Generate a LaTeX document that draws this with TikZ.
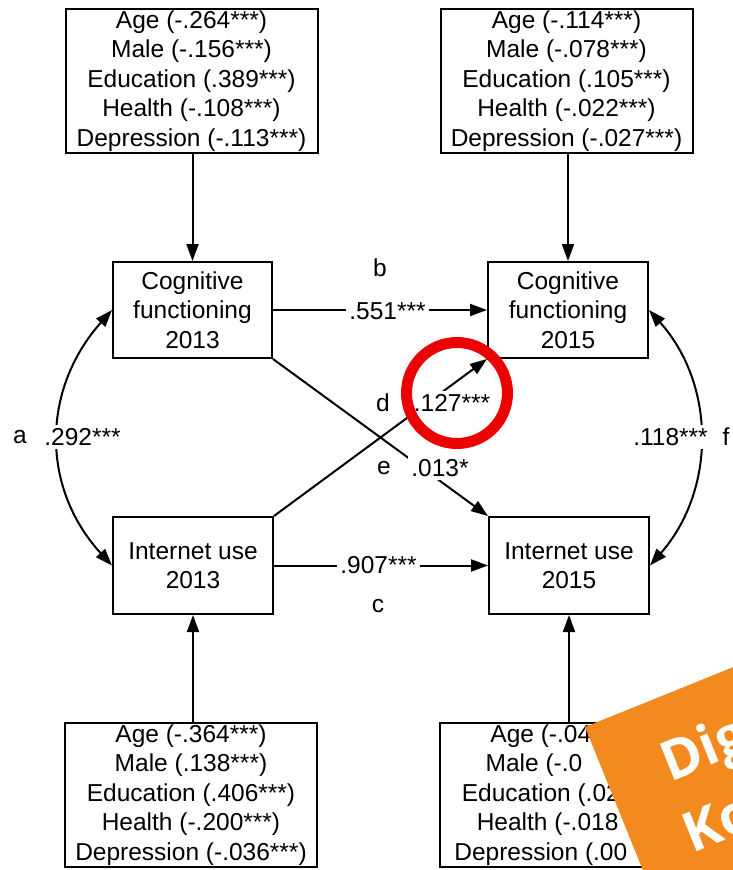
\documentclass[tikz,border=0pt]{standalone}
\usepackage{fontspec}
\setmainfont{Liberation Sans}
\newfontfamily\bannerfont{Open Sans}
\usetikzlibrary{arrows.meta}
\definecolor{bannerorange}{RGB}{243,138,32}
\definecolor{ringred}{RGB}{236,0,0}
\begin{document}
\begin{tikzpicture}[x=1pt,y=-1pt,
  every node/.style={font=\fontsize{24.5}{29.5}\selectfont, inner sep=0pt},
  covbox/.style={draw, line width=2pt, minimum width=252pt, minimum height=144pt, align=center},
  varbox/.style={draw, line width=2pt, minimum width=160pt, minimum height=96pt, align=center},
  conn/.style={line width=2pt, -{Triangle[length=17pt,width=12pt]}},
  biconn/.style={line width=2pt, {Triangle[length=17pt,width=12pt]}-{Triangle[length=17pt,width=12pt]}},
  coef/.style={fill=white, inner sep=3pt}]
\useasboundingbox (0,0) rectangle (733,870);
\fill[white] (0,0) rectangle (733,870);

% covariate boxes
\node[covbox] (tl) at (191.5,81) {Age (-.264***)\\Male (-.156***)\\Education (.389***)\\Health (-.108***)\\Depression (-.113***)};
\node[covbox] (tr) at (566.5,81) {Age (-.114***)\\Male (-.078***)\\Education (.105***)\\Health (-.022***)\\Depression (-.027***)};
\node[covbox] (bl) at (191,795) {Age (-.364***)\\Male (.138***)\\Education (.406***)\\Health (-.200***)\\Depression (-.036***)};
\node[covbox] (br) at (566,795) {Age (-.04\phantom{0***)}\\Male (-.0\phantom{00***)}\\Education (.02\phantom{0***)}\\Health (-.018\phantom{***)}\\Depression (.00\phantom{0***)}};

% variable boxes
\node[varbox, minimum width=159pt] (cog13) at (192.5,310) {Cognitive\\functioning\\2013};
\node[varbox] (cog15) at (568,310) {Cognitive\\functioning\\2015};
\node[varbox, minimum height=97pt] (int13) at (193,565.5) {Internet use\\2013};
\node[varbox, minimum height=97pt] (int15) at (569,565.5) {Internet use\\2015};

% covariate arrows
\draw[conn] (tl.south -| cog13.north) -- (cog13.north);
\draw[conn] (tr.south -| cog15.north) -- (cog15.north);
\draw[conn] (bl.north -| int13.south) -- (int13.south);
\draw[conn] (br.north -| int15.south) -- (int15.south);

% paths
\draw[conn] (cog13.east) -- (cog15.west);
\draw[conn] (int13.east) -- (int15.west);
\draw[conn] (int13.north east) -- (cog15.south west);
\draw[conn] (cog13.south east) -- (int15.north west);
\draw[biconn] (int13.west) .. controls (41,488) and (41,390) .. (cog13.west);
\draw[biconn] (int15.east) .. controls (716,490) and (716,385) .. (cog15.east);

% coefficients
\node[coef] (kb) at (387.5,311) {.551***};
\node[coef] (kc) at (378.5,565) {.907***};
\node[coef] (kd) at (452,403) {.127***};
\node[coef] (ke) at (440,468) {.013*};
\node[coef] (ka) at (82.5,437) {.292***};
\node[coef] (kf) at (670.5,437) {.118***};

% path letters
\node (lb) at (380,268) {b};
\node (lc) at (378,606) {c};
\node (ld) at (383,403) {d};
\node (le) at (384,468) {e};
\node (la) at (20,437) {a};
\node (lf) at (726,437) {f};

% red highlight ring
\draw[ringred, line width=11pt] (457,393) circle[radius=50.5pt];

% orange banner
\begin{scope}
\clip (0,0) rectangle (733,870);
\begin{scope}[shift={(585,727)}, rotate=22]
\fill[bannerorange] (0,0) rectangle (500,400);
\node[transform shape, anchor=base west, text=white, font=\bannerfont\bfseries\fontsize{55}{66}\selectfont] (dig) at (58,83) {Dig};
\node[transform shape, anchor=base west, text=white, font=\bannerfont\bfseries\fontsize{55}{66}\selectfont] (ko) at (52,157) {Ko};
\end{scope}
\end{scope}
\end{tikzpicture}
\end{document}
